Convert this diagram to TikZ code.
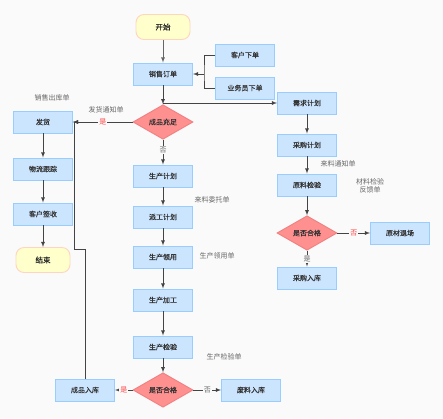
\documentclass[tikz,border=0pt]{standalone}
\usepackage{fontspec}
\setmainfont{Noto Sans CJK SC}
\newfontfamily\boxfont{Noto Sans CJK SC}[FakeBold=0.4]
\usetikzlibrary{arrows,shapes.geometric}
\definecolor{boxfill}{HTML}{CCE5FF}
\definecolor{boxline}{HTML}{99CCFF}
\definecolor{decfill}{HTML}{FF9090}
\definecolor{decline}{HTML}{F08080}
\definecolor{endfill}{HTML}{FFFFCC}
\definecolor{endline}{HTML}{FFD5C0}
\definecolor{bgcol}{HTML}{FAFAFB}
\definecolor{linecol}{HTML}{444444}
\definecolor{notecol}{HTML}{666666}
\definecolor{yescol}{HTML}{FF4040}

\begin{document}
\begin{tikzpicture}[x=1pt,y=-1pt,
	font=\fontsize{7pt}{8pt}\selectfont,
	proc/.style={draw=boxline,fill=boxfill,line width=0.9pt,minimum width=59pt,minimum height=22pt,inner sep=1pt,text=black!80,font=\fontsize{7pt}{8pt}\boxfont},
	decide/.style={diamond,draw=decline,fill=decfill,line width=0.9pt,minimum width=60pt,minimum height=28pt,inner sep=0pt,text=black!80,font=\fontsize{7pt}{8pt}\boxfont},
	term/.style={rounded corners=8pt,draw=endline,fill=endfill,line width=0.9pt,minimum width=54pt,minimum height=25pt,text=black!85,font=\fontsize{7.5pt}{8pt}\boxfont},
	note/.style={text=notecol},
	arr/.style={-latex,draw=linecol,line width=0.8pt},
	yes/.style={text=yescol,fill=bgcol,inner sep=1pt},
	no/.style={text=notecol,fill=bgcol,inner sep=1pt}]
	\fill[bgcol] (0,0) rectangle (443,418);
	% main column
	\node[term] (start) at (163,27) {开始};
	\node[proc] (xsdd) at (163,74) {销售订单};
	\node[proc] (khxd) at (245,55) {客户下单};
	\node[proc] (ywyxd) at (245,88) {业务员下单};
	\node[decide,minimum height=30pt] (cpcz) at (163,122) {成品充足};
	\node[proc] (scjh) at (163,176) {生产计划};
	\node[proc] (pgjh) at (163,217) {派工计划};
	\node[proc] (scly) at (163,257) {生产领用};
	\node[proc] (scjg) at (163,300) {生产加工};
	\node[proc] (scjy) at (163,347) {生产检验};
	\node[decide,minimum height=27pt] (sfhg) at (163,390) {是否合格};
	\node[proc] (cprk) at (85,390) {成品入库};
	\node[proc] (flrk) at (251,390) {废料入库};
	% left column
	\node[proc] (fahuo) at (43,122) {发货};
	\node[proc] (wlgz) at (43,169) {物流跟踪};
	\node[proc] (khqs) at (43,214) {客户签收};
	\node[term] (jieshu) at (43,260) {结束};
	% right column
	\node[proc] (xqjh) at (307,103) {需求计划};
	\node[proc] (cgjh) at (307,145) {采购计划};
	\node[proc] (yljy) at (307,185) {原料检验};
	\node[decide,minimum height=27pt] (sfhg2) at (307,233) {是否合格};
	\node[proc] (ycts) at (400,233) {原材退场};
	\node[proc] (cgrk) at (307,278) {采购入库};
	% notes
	\node[note] at (52,98) {销售出库单};
	\node[note] at (106,110) {发货通知单};
	\node[note] at (212,200) {来料委托单};
	\node[note] at (217,256) {生产领用单};
	\node[note] at (224,357) {生产检验单};
	\node[note] at (338,164) {来料通知单};
	\node[note,align=center] at (370,186) {材料检验\\反馈单};
	% connectors
	\draw[arr,draw=notecol] (start) -- (xsdd);
	\coordinate (join) at (204,74);
	\draw[linecol,line width=0.8pt] (khxd.west) -| (join) |- (ywyxd.west);
	\draw[arr] (join) -- (xsdd.east);
	\draw[arr] (xsdd) -- (cpcz);
	\coordinate (split) at (163,103);
	\draw[arr] (split) -- (xqjh.west);
	\draw[arr] (cpcz) -- node[yes] {是} (fahuo);
	\draw[arr] (cpcz) -- node[no,pos=0.4] {否} (scjh);
	\draw[arr] (fahuo) -- (wlgz);
	\draw[arr] (wlgz) -- (khqs);
	\draw[arr] (khqs) -- (jieshu);
	\draw[arr] (scjh) -- (pgjh);
	\draw[arr] (pgjh) -- (scly);
	\draw[arr] (scly) -- (scjg);
	\draw[arr] (scjg) -- (scjy);
	\draw[arr] (scjy) -- (sfhg);
	\draw[arr] (sfhg) -- node[yes] {是} (cprk);
	\draw[arr] (sfhg) -- node[no] {否} (flrk);
	\coordinate (back) at (85,249);
	\draw[arr] (cprk.north) -- (back) -| ([xshift=1pt]fahuo.east) -- (fahuo.east);
	\draw[arr] (xqjh) -- (cgjh);
	\draw[arr] (cgjh) -- (yljy);
	\draw[arr] (yljy) -- (sfhg2);
	\draw[arr] (sfhg2) -- node[yes] {否} (ycts);
	\draw[arr] (sfhg2) -- node[no] {是} (cgrk);
\end{tikzpicture}
\end{document}
